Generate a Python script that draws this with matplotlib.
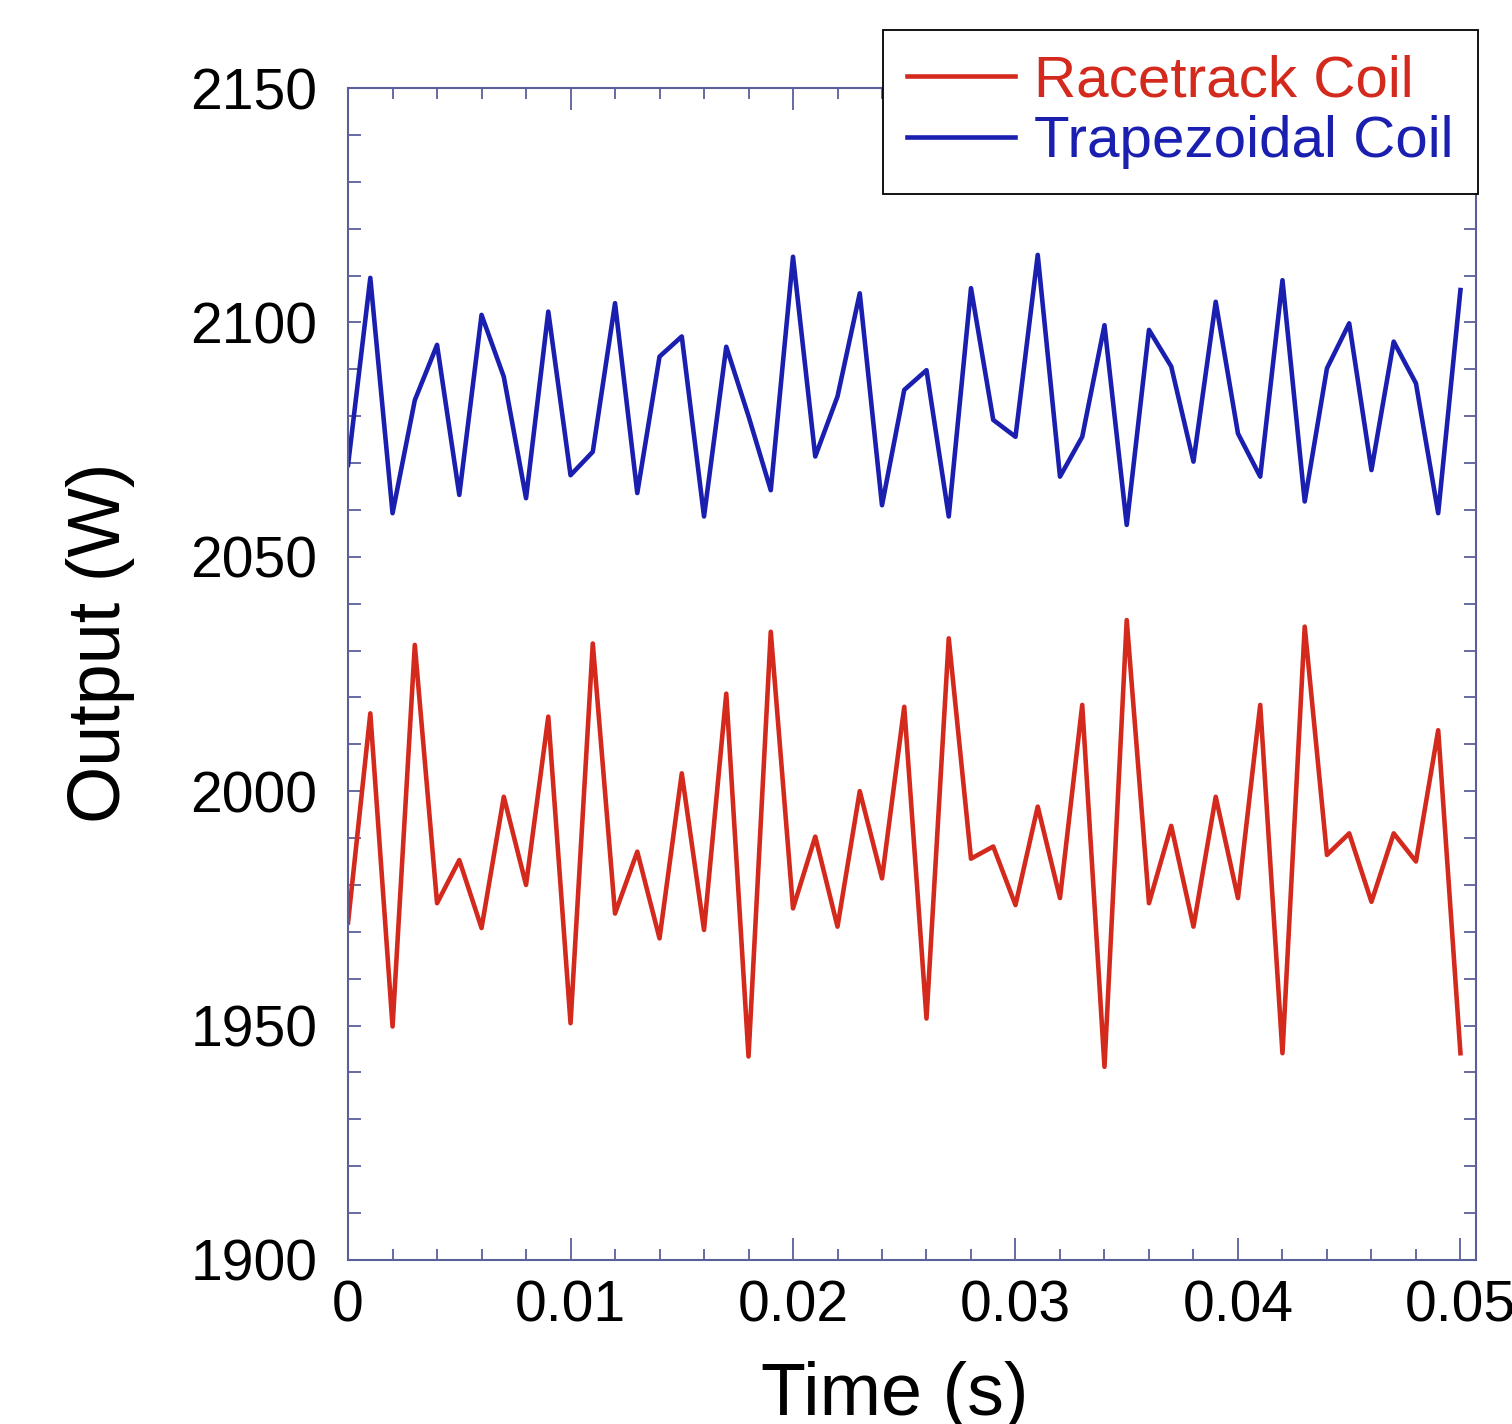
import matplotlib
matplotlib.use("Agg")
import matplotlib.pyplot as plt
import numpy as np

plt.rcParams['font.family'] = ['Liberation Sans', 'DejaVu Sans']

# time samples (s), one every 1 ms
time = np.arange(51) * 0.001

racetrack = [1972, 2016.6, 1949.8, 2031.2, 1976.1, 1985.3, 1970.8, 1998.8, 1980, 2015.9,
             1950.5, 2031.5, 1973.9, 1987.1, 1968.6, 2003.8, 1970.4, 2020.8, 1943.4, 2034,
             1975, 1990.3, 1971.1, 2000, 1981.4, 2018, 1951.5, 2032.6, 1985.6, 1988.2,
             1975.7, 1996.7, 1977.2, 2018.4, 1941.2, 2036.5, 1976.1, 1992.6, 1971.1, 1998.8,
             1977.2, 2018.4, 1944.1, 2035.1, 1986.4, 1991, 1976.4, 1991, 1985, 2013,
             1944.1]

trapezoidal = [2069.6, 2109.5, 2059.3, 2083.4, 2095.2, 2063.2, 2101.6, 2088.4, 2062.5, 2102.3,
               2067.4, 2072.4, 2104.1, 2063.6, 2092.7, 2097, 2058.6, 2094.8, 2080, 2064.2,
               2114, 2071.4, 2084.2, 2106.2, 2061, 2085.6, 2089.8, 2058.6, 2107.3, 2079.2,
               2075.6, 2114.4, 2067.1, 2075.6, 2099.4, 2056.8, 2098.4, 2090.6, 2070.3, 2104.4,
               2076.3, 2067.1, 2109, 2061.8, 2090.2, 2099.8, 2068.5, 2095.9, 2087, 2059.3,
               2106.9]

x_ticks = [0, 0.01, 0.02, 0.03, 0.04, 0.05]
x_ticklabels = ['0', '0.01', '0.02', '0.03', '0.04', '0.05']
y_ticks = [1900, 1950, 2000, 2050, 2100, 2150]

red = '#d42a1e'
blue = '#1a1fb0'
spine_col = '#5a5f9a'

fig = plt.figure(figsize=(15.12, 14.24), dpi=100)
ax = fig.add_axes([0.2302, 0.1152, 0.746, 0.823])

ax.plot(time, racetrack, color=red, lw=3.3, label='Racetrack Coil')
ax.plot(time, trapezoidal, color=blue, lw=3.3, label='Trapezoidal Coil')

ax.set_xlim(0, 0.0507)
ax.set_ylim(1900, 2150)
ax.set_xticks(x_ticks)
ax.set_xticklabels(x_ticklabels)
ax.set_xticks(np.arange(0, 0.0507, 0.002), minor=True)
ax.set_yticks(y_ticks)
ax.set_yticks(np.arange(1900, 2151, 10), minor=True)

for s in ax.spines.values():
    s.set_color(spine_col)
    s.set_linewidth(1.5)

ax.tick_params(axis='both', which='both', direction='in', top=True, right=True,
               color=spine_col, width=1.3, labelsize=41)
ax.tick_params(axis='x', which='major', length=16, pad=14)
ax.tick_params(axis='x', which='minor', length=8)
ax.tick_params(axis='y', which='major', length=9, pad=22)
ax.tick_params(axis='y', which='minor', length=9)

ax.set_xlabel('Time (s)', fontsize=53)
ax.set_ylabel('Output (W)', fontsize=53)
ax.xaxis.set_label_coords(0.485, -0.086)
ax.yaxis.set_label_coords(-0.189, 0.527)

leg = ax.legend(loc='upper right', bbox_to_anchor=(0.9775, 0.979),
                bbox_transform=fig.transFigure, borderaxespad=0, fontsize=42,
                handlelength=1.85, handletextpad=0.32, labelspacing=0.12,
                borderpad=0.42, fancybox=False, framealpha=1, edgecolor='black')
leg.get_frame().set_linewidth(1.3)
for txt, c in zip(leg.get_texts(), [red, blue]):
    txt.set_color(c)

fig.savefig('out.png', dpi=100, facecolor='white')
